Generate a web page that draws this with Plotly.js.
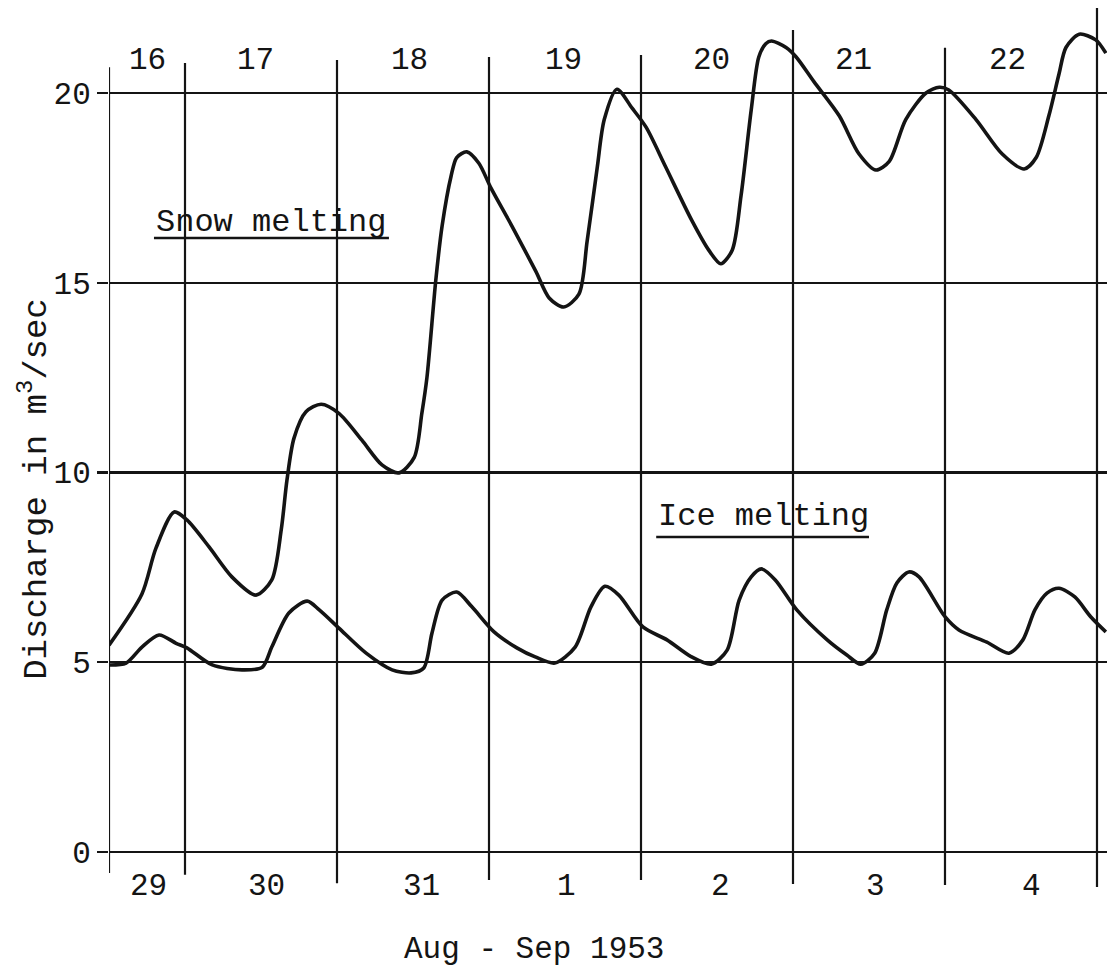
<!DOCTYPE html>
<html>
<head>
<meta charset="utf-8">
<script src="https://cdn.plot.ly/plotly-3.0.1.min.js"></script>
<style>html,body{margin:0;padding:0;background:#fff;}#chart{width:1107px;height:970px;}</style>
</head>
<body>
<div id="chart"></div>
<script>
// ---- data (hours since 29 Aug 1953 00:00) ----
const snowHours = [12.0,17.2,19.4,22.3,24.3,27.8,31.4,35.2,37.7,39.2,40.1,41.2,43.1,45.5,48.3,51.9,55.1,57.8,60.2,61.4,62.2,63.6,64.6,66.0,66.9,68.5,70.4,72.3,75.6,79.4,81.5,83.8,86.2,87.5,89.1,90.2,92.2,94.6,96.8,99.9,104.0,106.7,108.6,110.4,111.8,113.4,114.6,115.7,116.6,118.9,120.5,123.3,127.3,130.4,133.1,135.2,137.8,141.0,143.1,144.6,148.9,153.0,156.5,158.4,160.4,162.0,163.1,165.2,167.8,169.4];
const snowMelt  = [5.45,6.8,8.0,8.96,8.75,8.04,7.25,6.77,7.17,8.5,9.8,10.9,11.6,11.8,11.56,10.86,10.2,9.99,10.4,11.56,12.5,15.07,16.5,17.8,18.3,18.45,18.15,17.5,16.5,15.3,14.6,14.36,14.7,16.1,18.05,19.3,20.1,19.6,19.1,18.05,16.65,15.86,15.5,15.86,17.3,19.55,20.95,21.3,21.37,21.2,20.95,20.3,19.4,18.4,17.97,18.2,19.3,20.0,20.15,20.08,19.3,18.4,18.0,18.3,19.4,20.5,21.2,21.55,21.4,21.05];

const iceHours = [12.0,14.7,17.2,19.9,22.6,24.3,28.3,33.0,36.2,37.7,40.4,43.3,45.2,48.3,52.6,56.7,59.7,61.7,63.0,64.6,66.9,69.3,72.8,76.4,79.3,82.4,85.6,88.1,90.3,92.5,96.3,100.1,103.9,107.1,109.6,111.5,113.4,115.0,117.2,120.6,125.4,128.5,130.7,132.9,134.8,136.4,138.3,139.9,144.0,146.2,150.6,154.1,156.3,158.2,160.1,162.0,164.5,167.0,169.4];
const iceMelt  = [4.93,4.98,5.4,5.72,5.5,5.38,4.93,4.8,4.87,5.4,6.3,6.61,6.38,5.9,5.24,4.8,4.72,4.85,5.77,6.64,6.85,6.46,5.8,5.38,5.14,4.98,5.4,6.46,7.0,6.77,5.93,5.59,5.15,4.95,5.32,6.64,7.25,7.46,7.17,6.38,5.59,5.19,4.95,5.24,6.38,7.09,7.38,7.25,6.2,5.85,5.53,5.24,5.59,6.38,6.82,6.95,6.72,6.2,5.8];

const dateLabels   = ['29','30','31','1','2','3','4'];
const dateLabelPos = [18.2,36.8,61.4,84.3,108.6,133.1,157.6];
const dayNoLabels  = ['16','17','18','19','20','21','22'];
const dayNoPos     = [18.0,35.2,59.4,83.8,107.1,129.5,153.9];
const dayBounds    = [12,24,48,72,96,120,144,168];
const boundTops    = [20.68,20.79,20.87,20.95,21.0,21.66,21.19,22.24];
const boundBottoms = [-0.55,-0.6,-0.82,-0.74,-0.74,-0.84,-0.87,-0.92];
const yTicks = [0,5,10,15,20];

const FONT = 'Liberation Mono, Courier New, Courier, monospace';
const INK = '#141414';

const traces = [
  {x: snowHours, y: snowMelt, type: 'scatter', mode: 'lines', name: 'Snow melting',
   line: {color: INK, width: 3.6, shape: 'spline', smoothing: 0.8}, hoverinfo: 'skip'},
  {x: iceHours, y: iceMelt, type: 'scatter', mode: 'lines', name: 'Ice melting',
   line: {color: INK, width: 3.6, shape: 'spline', smoothing: 0.8}, hoverinfo: 'skip'}
];

const shapes = dayBounds.map((b, i) => ({
  type: 'line', xref: 'x', yref: 'y', x0: b, x1: b, y0: boundBottoms[i], y1: boundTops[i],
  line: {color: INK, width: 2.2}, layer: 'below'
}));
// underlines beneath the two curve labels
shapes.push({type: 'line', xref: 'x', yref: 'y', x0: 19.1, x1: 56.2, y0: 16.18, y1: 16.18,
             line: {color: INK, width: 2.5}});
shapes.push({type: 'line', xref: 'x', yref: 'y', x0: 98.4, x1: 132.0, y0: 8.30, y1: 8.30,
             line: {color: INK, width: 2.5}});

const annotations = [];
dateLabels.forEach((t, i) => annotations.push({
  x: dateLabelPos[i], y: -0.9, xref: 'x', yref: 'y', text: t, showarrow: false,
  xanchor: 'center', yanchor: 'middle', font: {family: FONT, size: 31, color: INK}
}));
dayNoLabels.forEach((t, i) => annotations.push({
  x: dayNoPos[i], y: 20.87, xref: 'x', yref: 'y', text: t, showarrow: false,
  xanchor: 'center', yanchor: 'middle', font: {family: FONT, size: 31, color: INK}
}));
annotations.push({
  x: 19.1, y: 16.6, xref: 'x', yref: 'y', text: 'Snow melting', showarrow: false,
  xanchor: 'left', yanchor: 'middle', font: {family: FONT, size: 32, color: INK}
});
annotations.push({
  x: 98.3, y: 8.83, xref: 'x', yref: 'y', text: 'Ice melting', showarrow: false,
  xanchor: 'left', yanchor: 'middle', font: {family: FONT, size: 32, color: INK}
});
annotations.push({
  x: 79.1, y: -2.58, xref: 'x', yref: 'y', text: 'Aug - Sep 1953', showarrow: false,
  xanchor: 'center', yanchor: 'middle', font: {family: FONT, size: 31, color: INK}
});
annotations.push({
  x: -0.0752, y: 9.57, xref: 'paper', yref: 'y', text: 'Discharge in m<sup>3</sup>/sec', showarrow: false,
  textangle: -90, xanchor: 'center', yanchor: 'middle', font: {family: FONT, size: 34, color: INK}
});

const layout = {
  width: 1107, height: 970,
  margin: {l: 109, r: 0, t: 0, b: 0, pad: 0},
  paper_bgcolor: '#ffffff', plot_bgcolor: '#ffffff',
  showlegend: false,
  xaxis: {range: [12, 169.58], showgrid: false, zeroline: false, showline: false,
          showticklabels: false, ticks: '', fixedrange: true},
  yaxis: {range: [-3.109, 22.451], tickvals: yTicks, ticktext: yTicks.map(String),
          showgrid: true, gridcolor: INK, gridwidth: 2.2, zeroline: false, showline: false,
          ticks: 'outside', ticklen: 11, tickwidth: 2.2, tickcolor: INK,
          tickfont: {family: FONT, size: 31, color: INK}, automargin: false, fixedrange: true},
  shapes: shapes,
  annotations: annotations
};

Plotly.newPlot('chart', traces, layout, {displayModeBar: false, staticPlot: true});
</script>
</body>
</html>
